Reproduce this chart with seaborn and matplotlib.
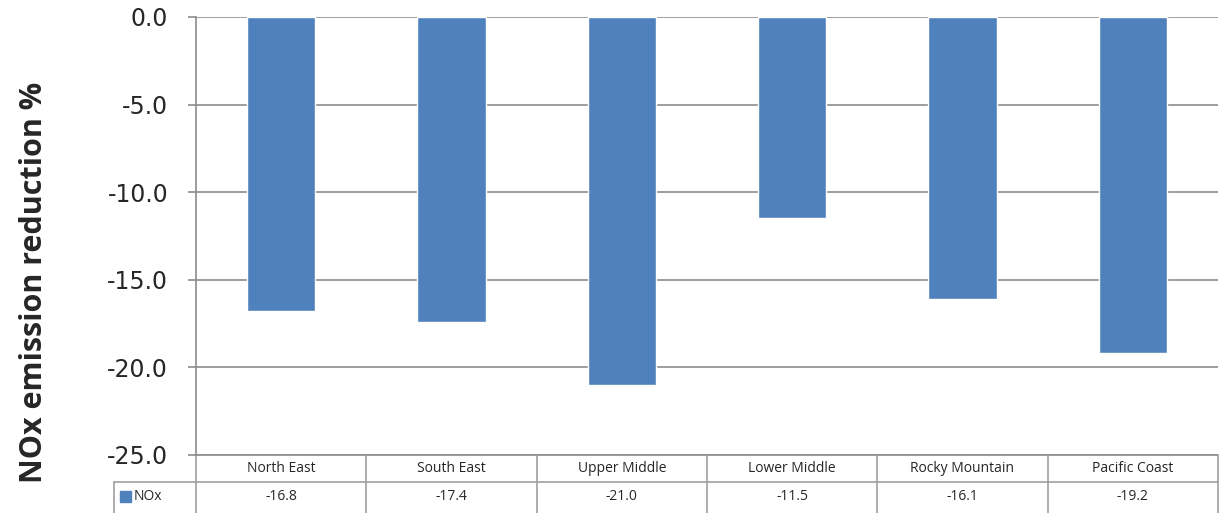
import pandas as pd
import numpy as np
import matplotlib.pyplot as plt
import seaborn as sns

# Values (NOx reduction by region)
regions = ["North East", "South East", "Upper Middle", "Lower Middle", "Rocky Mountain", "Pacific Coast"]
nox = [-16.8, -17.4, -21.0, -11.5, -16.1, -19.2]
series_name = "NOx"
y_ticks = [0.0, -5.0, -10.0, -15.0, -20.0, -25.0]

df = pd.DataFrame({"region": regions, "value": nox})

sns.set_style("white")
plt.rcParams['font.family'] = ['Open Sans', 'DejaVu Sans']
plt.rcParams['axes.unicode_minus'] = False

bar_color = "#4F81BD"
grid_color = "#8C8C8C"
table_color = "#A0A0A0"

fig = plt.figure(figsize=(12.2, 5.13), dpi=100)
ax = fig.add_axes([196 / 1220, 1 - 455 / 513, 1022 / 1220, 438 / 513])

sns.barplot(data=df, x="region", y="value", color=bar_color, width=0.4,
            saturation=1, ax=ax, zorder=3)

ax.set_ylim(-25, 0)
ax.set_xlim(-0.5, len(regions) - 0.5)
ax.set_yticks(y_ticks)
ax.set_yticklabels([f"{t:.1f}" for t in y_ticks], fontsize=17, family='DejaVu Sans')
ax.set_xticks([])
ax.set_xlabel("")
ax.set_ylabel("NOx emission reduction %", fontsize=22, fontweight='bold',
              family='Open Sans', labelpad=0)
ax.yaxis.set_label_coords(-147 / 1022, 0.395)

for t in y_ticks:
    ax.axhline(t, color=grid_color, lw=1.2, zorder=1)
ax.tick_params(axis='y', length=6, width=1.2, color=grid_color, pad=14, left=True)
for s in ["top", "right", "bottom"]:
    ax.spines[s].set_visible(False)
ax.spines["left"].set_color(grid_color)
ax.spines["left"].set_linewidth(1.2)
ax.spines["left"].set_bounds(-25, 0)

# data table under the plot
tr = ax.get_xaxis_transform()
row_h = 27 / 438
n = len(regions)
left_x = -0.5 - 82 / (1022 / n)
kw = dict(transform=tr, clip_on=False, color=table_color, lw=1.2)
ax.plot([-0.5, -0.5], [0, -3 * row_h], **kw)
ax.plot([-0.5, n - 0.5], [0, 0], color=grid_color, lw=1.2, transform=tr, clip_on=False)
ax.plot([left_x, n - 0.5], [-row_h, -row_h], **kw)
ax.plot([left_x, left_x], [-row_h, -3 * row_h], **kw)
data_y = -(497 - 455) / 438
for i in range(n):
    ax.plot([i + 0.5, i + 0.5], [0, -3 * row_h], **kw)
    ax.text(i, -(469 - 455) / 438, regions[i], transform=tr, ha='center', va='center',
            fontsize=10, family='Open Sans')
    ax.text(i, data_y, f"{nox[i]:.1f}", transform=tr, ha='center', va='center',
            fontsize=10, family='Open Sans')

# legend key in the first table cell
ax.add_patch(plt.Rectangle((left_x + 0.035, data_y - 0.012), 0.065, 0.025,
                           transform=tr, clip_on=False, color=bar_color))
ax.text(left_x + 0.115, data_y, series_name, transform=tr, ha='left', va='center',
        fontsize=10, family='Open Sans')

fig.savefig("out.png", dpi=100)
